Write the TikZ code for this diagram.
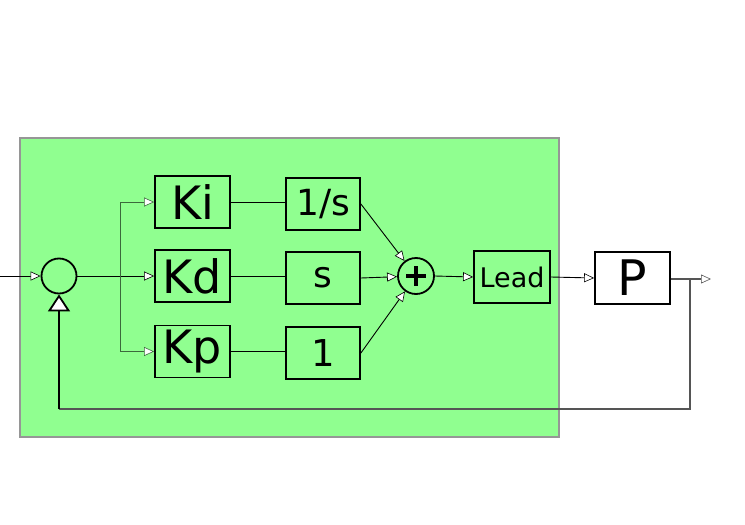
\documentclass[tikz,border=0pt]{standalone}
\usepackage{fontspec}
\setmainfont{DejaVu Sans}
\usetikzlibrary{arrows.meta}
\definecolor{panel}{RGB}{144,255,144}
\definecolor{panelborder}{RGB}{150,150,150}
\definecolor{darkwire}{RGB}{85,85,85}
\definecolor{greenwire}{RGB}{60,105,60}
\tikzset{
  blockbox/.style={draw=black, line width=1.8pt, inner sep=0pt, minimum width=75pt, minimum height=52pt, font=\fontsize{40}{40}\selectfont},
  tipsmall/.style={-{Triangle[open, fill=white, length=10pt, width=9pt, line width=0.6pt]}},
  wire/.style={line width=0.9pt, draw=black},
  sumnode/.style={circle, draw=black, line width=1.8pt, inner sep=0pt},
}
\begin{document}
\begin{tikzpicture}[x=1pt,y=-1pt]
\useasboundingbox (0,0) rectangle (745,525);
\fill[panel, draw=panelborder, line width=1.5pt] (20,138) rectangle (559,437);

\node[sumnode, minimum size=35pt] (sum) at (59,276) {};
\node[sumnode, minimum size=36pt] (plus) at (416,276) {};
\draw[line width=3.5pt] (406,276) -- (426,276) (416,266) -- (416,286);

\node[blockbox, font=\fontsize{46}{46}\selectfont] (ki) at (192.5,202) {Ki};
\node[blockbox, font=\fontsize{46}{46}\selectfont] (kd) at (192.5,276) {Kd};
\node[blockbox, font=\fontsize{46}{46}\selectfont] (kp) at (192.5,351.5) {Kp};

\node[blockbox, minimum width=74pt, font=\fontsize{36}{36}\selectfont] (inv) at (323,204) {1/s};
\node[blockbox, minimum width=74pt, font=\fontsize{36}{36}\selectfont] (der) at (323,278) {s};
\node[blockbox, minimum width=74pt, font=\fontsize{37}{37}\selectfont] (one) at (323,353) {1};

\node[blockbox, minimum width=76pt, font=\fontsize{27}{27}\selectfont] (lead) at (512,277) {Lead};
\node[blockbox, fill=white, font=\fontsize{49}{49}\selectfont] (plant) at (632.5,278) {P};

\coordinate (in) at (0,276);
\coordinate (split) at (120,276);
\coordinate (out) at (711,279);
\coordinate (tap) at (690,279);
\coordinate (fbr) at (690,409);
\coordinate (fbl) at (59,409);

\draw[wire, tipsmall] (in) -- (sum.west);
\draw[wire, tipsmall] (sum.east) -- (kd.west);
\draw[wire, draw=greenwire, tipsmall] (split) |- (ki.west);
\draw[wire, draw=greenwire, tipsmall] (split) |- (kp.west);

\draw[wire] (ki.east) -- (ki.east -| inv.west);
\draw[wire] (kd.east) -- (kd.east -| der.west);
\draw[wire] (kp.east) -- (kp.east -| one.west);

\draw[wire, tipsmall] (inv.east) -- (plus);
\draw[wire, tipsmall] (der.east) -- (plus);
\draw[wire, tipsmall] (one.east) -- (plus);

\draw[wire, tipsmall] (plus.east) -- (lead.west);
\draw[wire, tipsmall] (lead.east) -- (plant.west);
\draw[wire, draw=darkwire, line width=1.6pt, tipsmall] (plant.east |- out) -- (out);

\draw[draw=darkwire, line width=1.6pt] (tap) -- (fbr) -- (fbl);
\draw[draw=black, line width=1.6pt, -{Triangle[open, fill=white, length=17pt, width=22pt, line width=1.8pt]}]
  (fbl) -- (sum.south);
\end{tikzpicture}
\end{document}
